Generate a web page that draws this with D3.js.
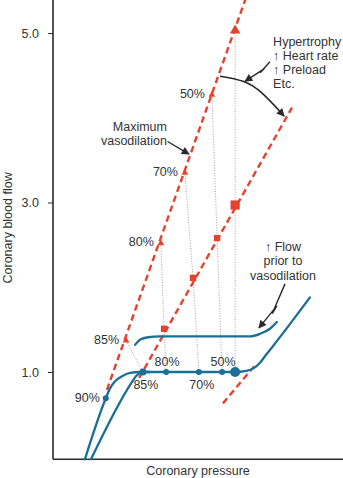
<!DOCTYPE html>
<html><head><meta charset="utf-8">
<script src="https://cdn.jsdelivr.net/npm/d3@7"></script>
<style>
body{margin:0;background:#fff}
svg{display:block}
text{font-family:"Liberation Sans",Arial,Helvetica,sans-serif;font-size:12.5px;fill:#333}
</style>
</head><body><svg id="c" width="343" height="478"></svg>
<script>
// ---------------- DATA ----------------
const yTicks = [1, 3, 5];
const yTickLabels = ["1.0", "3.0", "5.0"];
const xTitle = "Coronary pressure";
const yTitle = "Coronary blood flow";

// stenosis levels ("0%" = normal)
const levels = ["0%", "50%", "70%", "80%", "85%", "90%"];
// flow at maximum vasodilation (triangles)
const vasoX = [62.8, 54.8, 45.5, 37.2, 25.2, null];
const vasoY = [5.03, 4.27, 3.35, 2.52, 1.37, null];
// flow at maximum vasodilation after hypertrophy etc. (squares)
const hyperX = [62.8, 56.6, 48.3, 38.3, null, null];
const hyperY = [2.97, 2.58, 2.11, 1.51, null, null];
// resting (autoregulated) flow (circles)
const restX = [62.8, 58.3, 50.3, 39.0, 31.0, 18.2];
const restY = [1.0, 1.0, 1.0, 1.0, 1.0, 0.69];

// blue autoregulation curves [pressure, flow]
const curveA = [[11.0,-0.03],[18.2,0.69],[19.7,0.81],[21.4,0.89],[23.8,0.95],[26.6,0.99],[30.0,1.0],[33.4,1.0]];
const curveB = [[13.1,-0.03],[27.2,0.88],[28.6,0.95],[30.3,0.99],[32.4,1.0],[62.8,1.0],[66.2,1.01],[69.0,1.04],[71.4,1.11],[73.4,1.2],[75.5,1.29],[88.6,1.88]];
const curveUpper = [[28.3,1.32],[30.0,1.38],[32.8,1.41],[36.9,1.42],[67.9,1.42],[71.4,1.45],[74.8,1.51],[77.2,1.59]];

// red dashed pressure-flow lines
const maxVasoLine = [[18.6,0.79],[66.9,5.45]];
const shiftedLine = [[29.7,0.93],[82.4,4.12]];
const lowerLine = [[58.6,0.63],[69.7,1.08]];

// annotations
const hyperText = ["Hypertrophy", "\u2191 Heart rate", "\u2191 Preload", "Etc."];
const flowText = ["\u2191 Flow", "prior to", "vasodilation"];
const vasoText = ["Maximum", "vasodilation"];

// ---------------- CHART ----------------
const svg = d3.select("#c");
const x = d3.scaleLinear().domain([0, 100]).range([53, 343]);
const y = d3.scaleLinear().domain([1, 5]).range([372, 33]);
const RED = "#e3432e", BLUE = "#1b6f96", INK = "#2a2a2a";

const defs = svg.append("defs");
defs.append("marker").attr("id","ah").attr("viewBox","0 0 10 10")
  .attr("refX",9).attr("refY",5).attr("markerWidth",10).attr("markerHeight",8)
  .attr("markerUnits","userSpaceOnUse").attr("orient","auto")
  .append("path").attr("d","M0,0 L10,5 L0,10 Z").attr("fill",INK);

// axes
const axG = svg.append("g").attr("transform", `translate(${x(0)},0)`)
  .call(d3.axisLeft(y).tickValues(yTicks).tickFormat((d,i)=>yTickLabels[i]).tickSize(5).tickPadding(9));
axG.select(".domain").remove();
axG.selectAll("line").attr("stroke", INK).attr("stroke-width", 1);
axG.selectAll("text").style("font-size","12.5px").attr("fill","#333").attr("font-family",null);
svg.append("line").attr("x1", x(0)).attr("x2", x(0)).attr("y1", 0).attr("y2", y(-0.03))
  .attr("stroke", INK).attr("stroke-width", 1.6);
svg.append("line").attr("x1", x(0)).attr("x2", x(100)).attr("y1", y(-0.03)).attr("y2", y(-0.03))
  .attr("stroke", INK).attr("stroke-width", 1.6);

svg.append("text").attr("x", (x(0)+x(100))/2).attr("y", 475)
  .attr("text-anchor","middle").text(xTitle);
svg.append("text").attr("transform", `translate(12,${y(2.7)}) rotate(-90)`)
  .attr("text-anchor","middle").text(yTitle);

const plot = svg.append("g");

// dotted connectors
levels.forEach((lv, i) => {
  const pts = [];
  if (vasoX[i] != null) pts.push([vasoX[i], vasoY[i]]);
  if (hyperX[i] != null) pts.push([hyperX[i], hyperY[i]]);
  if (restX[i] != null) pts.push([restX[i], restY[i]]);
  if (pts.length > 1) {
    plot.append("path").attr("d", d3.line().x(d=>x(d[0])).y(d=>y(d[1]))(pts))
      .attr("fill","none").attr("stroke","#8a8a8a").attr("stroke-width",0.8)
      .attr("stroke-dasharray","1,1.6");
  }
});

// red dashed lines
[maxVasoLine, shiftedLine, lowerLine].forEach(ln => {
  plot.append("path").attr("d", d3.line().x(d=>x(d[0])).y(d=>y(d[1]))(ln))
    .attr("fill","none").attr("stroke",RED).attr("stroke-width",2.4)
    .attr("stroke-dasharray","6.5,4");
});

// blue curves
const bl = d3.line().x(d=>x(d[0])).y(d=>y(d[1])).curve(d3.curveMonotoneX);
[curveA, curveB, curveUpper].forEach(c => {
  plot.append("path").attr("d", bl(c)).attr("fill","none").attr("stroke",BLUE)
    .attr("stroke-width",2.3).attr("stroke-linecap","round");
});

// markers
levels.forEach((lv, i) => {
  const big = i === 0;
  if (vasoX[i] != null) {
    plot.append("path").attr("d", d3.symbol(d3.symbolTriangle, big ? 48 : 20)())
      .attr("transform", `translate(${x(vasoX[i])},${y(vasoY[i])})`).attr("fill", RED);
    if (!big) plot.append("text").attr("x", x(vasoX[i]) - 7).attr("y", y(vasoY[i]) + 3)
      .attr("text-anchor","end").text(lv);
  }
  if (hyperX[i] != null) {
    plot.append("path").attr("d", d3.symbol(d3.symbolSquare, big ? 85 : 40)())
      .attr("transform", `translate(${x(hyperX[i])},${y(hyperY[i])})`).attr("fill", RED);
  }
  if (restX[i] != null) {
    const r = big ? 5 : (lv === "85%" ? 3.6 : 3);
    plot.append("circle").attr("cx", x(restX[i])).attr("cy", y(restY[i])).attr("r", r).attr("fill", BLUE);
    if (!big) {
      const t = plot.append("text").text(lv);
      if (lv === "90%") t.attr("x", x(restX[i]) - 6).attr("y", y(restY[i]) + 4).attr("text-anchor","end");
      else if (lv === "85%" || lv === "70%") t.attr("x", x(restX[i]) + 3).attr("y", y(restY[i]) + 17).attr("text-anchor","middle");
      else t.attr("x", x(restX[i]) + 1).attr("y", y(restY[i]) - 6).attr("text-anchor","middle");
    }
  }
});

// annotation: Maximum vasodilation
vasoText.forEach((s, k) => svg.append("text").attr("x", x(39.3)).attr("y", y(3.84) + k*14)
  .attr("text-anchor","end").text(s));
svg.append("line").attr("x1", x(39.5)).attr("y1", y(3.72)).attr("x2", x(46.9)).attr("y2", y(3.57))
  .attr("stroke", INK).attr("stroke-width", 1.4).attr("marker-end","url(#ah)");

// annotation: Hypertrophy etc.
hyperText.forEach((s, k) => svg.append("text").attr("x", x(75.9)).attr("y", y(4.85) + k*14).text(s));
const bolt1 = [[74.8,4.66],[71.4,4.53],[72.9,4.58],[66.2,4.43]];
svg.append("path").attr("d", d3.line().x(d=>x(d[0])).y(d=>y(d[1]))(bolt1))
  .attr("fill","none").attr("stroke",INK).attr("stroke-width",1.4).attr("marker-end","url(#ah)");
const shiftArrow = [[57.6,4.49],[65.5,4.43],[72.1,4.29],[79.7,4.02]];
svg.append("path").attr("d", d3.line().x(d=>x(d[0])).y(d=>y(d[1])).curve(d3.curveNatural)(shiftArrow))
  .attr("fill","none").attr("stroke",INK).attr("stroke-width",1.6).attr("marker-end","url(#ah)");

// annotation: Flow prior to vasodilation
flowText.forEach((s, k) => svg.append("text").attr("x", x(79.3)).attr("y", y(2.43) + k*14.5)
  .attr("text-anchor","middle").text(s));
const bolt2 = [[80,2.04],[75.6,1.69],[77.2,1.78],[71.0,1.52]];
svg.append("path").attr("d", d3.line().x(d=>x(d[0])).y(d=>y(d[1]))(bolt2))
  .attr("fill","none").attr("stroke",INK).attr("stroke-width",1.4).attr("marker-end","url(#ah)");
</script>
</body></html>
